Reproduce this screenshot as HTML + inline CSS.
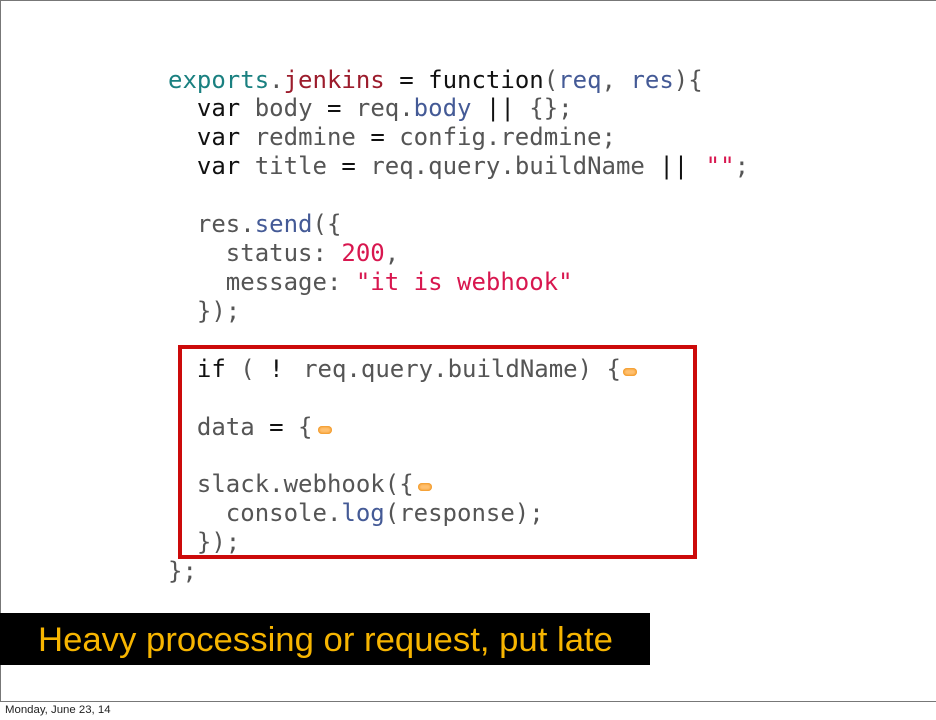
<!DOCTYPE html>
<html><head><meta charset="utf-8"><style>
html,body{margin:0;padding:0;background:#fff}
#s{position:relative;width:936px;height:720px;overflow:hidden;background:#fff}
#f{position:absolute;left:0;top:0;width:936px;height:702px;box-sizing:border-box;border:1px solid #777;border-right:0}
pre{position:absolute;left:168px;top:65.5px;margin:0;font:24px/28.92px "DejaVu Sans Mono","Liberation Mono",monospace;color:#555;filter:blur(.35px)}
.k{color:#111}.t{color:#1a8080}.r{color:#9c1c2c}.b{color:#445a96}.p{color:#d8174f}
.d{display:inline-block;width:14px;height:8px;border-radius:4px;background:#f0941e;box-shadow:inset 0 0 2px 1px #f0941e;background-color:#ffc070;vertical-align:1px}
#red{position:absolute;left:178px;top:345px;width:519px;height:214px;box-sizing:border-box;border:4px solid #cc0a0a}
#bar{position:absolute;left:0;top:613px;width:650px;height:52px;background:#000}
svg{position:absolute;left:0;top:613px}
#m{position:absolute;left:5px;top:704px;font:11.4px/13px "Liberation Sans",sans-serif;color:#222}
</style></head><body><div id="s">
<div id="f"></div>
<pre><span class="t">exports</span>.<span class="r">jenkins</span> <span class="k">=</span> <span class="k">function</span>(<span class="b">req</span>, <span class="b">res</span>){
  <span class="k">var</span> body <span class="k">=</span> req.<span class="b">body</span> <span class="k">||</span> {};
  <span class="k">var</span> redmine <span class="k">=</span> config.redmine;
  <span class="k">var</span> title <span class="k">=</span> req.query.buildName <span class="k">||</span> <span class="p" style="margin-left:3px">""</span>;

  res.<span class="b">send</span>({
    status: <span class="p">200</span>,
    message: <span class="p">"it is webhook"</span>
  });

  <span class="k">if</span> ( <span class="k">!</span> <span style="margin-left:5px">req.query.buildName) {</span><span class="d" style="margin-left:2px"></span>

  data <span class="k">=</span> {<span class="d" style="margin-left:5px"></span>

  slack.webhook({<span class="d" style="margin-left:4px"></span>
    console.<span class="b">log</span>(response);
  });
};</pre>
<div id="red"></div>
<div id="bar"></div>
<svg width="650" height="52"><text x="38" y="38" font-family="Liberation Sans, sans-serif" font-size="34" fill="#f7b500" textLength="575" lengthAdjust="spacingAndGlyphs">Heavy processing or request, put late</text></svg>
<div id="m">Monday, June 23, 14</div>
</div></body></html>
